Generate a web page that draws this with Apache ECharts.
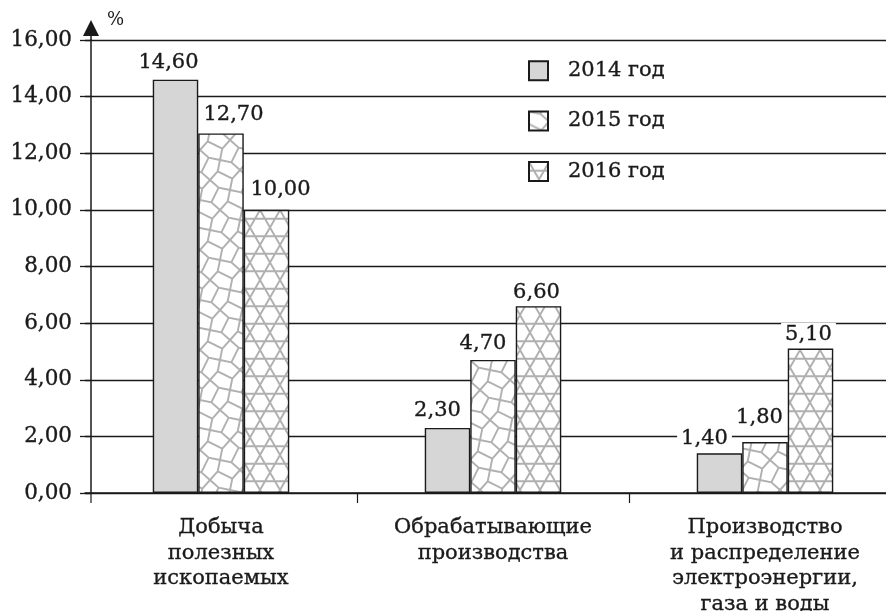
<!DOCTYPE html>
<html><head><meta charset="utf-8">
<script src="https://cdn.jsdelivr.net/npm/echarts@6/dist/echarts.min.js"></script>
<style>html,body{margin:0;padding:0;background:#fff}#c{width:886px;height:611px}</style>
</head><body><div id="c"></div>
<script>
// ---- data ----
var categories = ['Добыча\nполезных\nископаемых', 'Обрабатывающие\nпроизводства', 'Производство\nи распределение\nэлектроэнергии,\nгаза и воды'];
var seriesNames = ['2014 год', '2015 год', '2016 год'];
var values2014 = [14.60, 2.30, 1.40];
var values2015 = [12.70, 4.70, 1.80];
var values2016 = [10.00, 6.60, 5.10];
var yTicks = [0, 2, 4, 6, 8, 10, 12, 14, 16];

// ---- label placement (style): [category][series] = [dx, dy] ----
var labelShift = [
  [[-7, -6], [12.5, -7.5], [14, -8.5]],
  [[-10, -6], [-10, -5], [-2, -2.5]],
  [[-15, -3], [-5.5, -13], [-2, -2.5]]
];

var FONT = '"DejaVu Serif", "Liberation Serif", serif';
var INK = '#1a1a1a';
var PAT = '#b0b0b0';
var BOLD = { textBorderColor: INK, textBorderWidth: 0.35 };

function kagome() {
  var w = 20, h = 35;
  var c = document.createElement('canvas');
  c.width = w; c.height = h;
  var g = c.getContext('2d');
  g.fillStyle = '#fff'; g.fillRect(0, 0, w, h);
  g.strokeStyle = PAT; g.lineWidth = 1.9;
  g.beginPath();
  g.moveTo(0, h / 4); g.lineTo(w, h / 4);
  g.moveTo(0, 3 * h / 4); g.lineTo(w, 3 * h / 4);
  [-20, 0, 20].forEach(function (x0) { g.moveTo(x0, 0); g.lineTo(x0 + w, h); });
  [0, 20, 40].forEach(function (x0) { g.moveTo(x0, 0); g.lineTo(x0 - w, h); });
  g.stroke();
  return c;
}
function cairo() {
  var L = 100, a = L / (2 * Math.sqrt(5)), b = a * 0.73;
  var th = Math.atan(0.5);
  var c = document.createElement('canvas');
  c.width = L; c.height = L;
  var g = c.getContext('2d');
  g.fillStyle = '#fff'; g.fillRect(0, 0, L, L);
  g.strokeStyle = PAT; g.lineWidth = 1.9;
  g.save();
  g.rotate(th);
  g.beginPath();
  for (var i = -8; i <= 12; i++) for (var j = -8; j <= 12; j++) {
    var x0 = i * a, y0 = j * a, cx = x0 + a / 2, cy = y0 + a / 2;
    if (((i + j) % 2 + 2) % 2 === 0) {
      var l = cx - b / 2, r = cx + b / 2;
      g.moveTo(l, cy); g.lineTo(r, cy);
      g.moveTo(x0, y0); g.lineTo(l, cy); g.lineTo(x0, y0 + a);
      g.moveTo(x0 + a, y0); g.lineTo(r, cy); g.lineTo(x0 + a, y0 + a);
    } else {
      var t = cy - b / 2, bt = cy + b / 2;
      g.moveTo(cx, t); g.lineTo(cx, bt);
      g.moveTo(x0, y0); g.lineTo(cx, t); g.lineTo(x0 + a, y0);
      g.moveTo(x0, y0 + a); g.lineTo(cx, bt); g.lineTo(x0 + a, y0 + a);
    }
  }
  g.stroke();
  g.restore();
  return c;
}

var fills = [
  '#d6d6d6',
  { image: cairo(), repeat: 'repeat' },
  { image: kagome(), repeat: 'repeat' }
];
var allValues = [values2014, values2015, values2016];

function fmt(v) { return v.toFixed(2).replace('.', ','); }

var series = allValues.map(function (vals, si) {
  return {
    name: seriesNames[si],
    type: 'bar',
    barWidth: 45.5,
    barGap: '0%',
    itemStyle: { color: fills[si], borderColor: INK, borderWidth: 1.4 },
    label: Object.assign({
      show: true, position: 'top', distance: 0,
      fontFamily: FONT, fontSize: 21, color: INK,
      backgroundColor: '#fff', padding: [1, 4],
      formatter: function (p) { return fmt(p.value); }
    }, BOLD),
    data: vals.map(function (v, ci) {
      return { value: v, label: { offset: labelShift[ci][si] } };
    })
  };
});

var chart = echarts.init(document.getElementById('c'), null, { renderer: 'canvas' });
chart.setOption({
  animation: false,
  backgroundColor: '#fff',
  grid: { left: 85, width: 816, top: 40, bottom: 118, containLabel: false, outerBoundsMode: 'none' },
  legend: {
    orient: 'vertical', left: 528, top: 60, padding: 0,
    itemWidth: 19, itemHeight: 19, itemGap: 29,
    textStyle: Object.assign({ fontFamily: FONT, fontSize: 21, color: INK, padding: [0, 0, 0, 15] }, BOLD),
    data: seriesNames.map(function (n) { return { name: n, icon: 'rect' }; }),
    selectedMode: false
  },
  xAxis: {
    type: 'category', data: categories,
    axisLine: { lineStyle: { color: INK, width: 1.5 } },
    axisTick: { show: true, length: 10, interval: function (i) { return i > 0; }, lineStyle: { color: INK, width: 1.2 } },
    axisLabel: Object.assign({ fontFamily: FONT, fontSize: 21, color: INK, lineHeight: 25.5, margin: 22, interval: 0 }, BOLD)
  },
  yAxis: {
    type: 'value', min: yTicks[0], max: yTicks[yTicks.length - 1], interval: yTicks[1] - yTicks[0],
    offset: -6,
    axisLine: { show: true, lineStyle: { color: INK, width: 1.5 } },
    axisTick: { show: true, length: 11, lineStyle: { color: INK, width: 1.3 } },
    splitLine: { show: true, lineStyle: { color: INK, width: 1.3 } },
    axisLabel: Object.assign({ fontFamily: FONT, fontSize: 21.5, color: INK, margin: 19, formatter: function (v) { return fmt(v); } }, BOLD)
  },
  series: series
});

// axis arrow, downward extension and unit
var topY = chart.convertToPixel({ yAxisIndex: 0 }, yTicks[yTicks.length - 1]);
var botY = chart.convertToPixel({ yAxisIndex: 0 }, yTicks[0]);
var axX = 91;
chart.setOption({
  graphic: [
    { type: 'line', shape: { x1: axX, y1: topY, x2: axX, y2: topY - 8 }, style: { stroke: INK, lineWidth: 1.5 } },
    { type: 'line', shape: { x1: axX, y1: botY, x2: axX, y2: botY + 10 }, style: { stroke: INK, lineWidth: 1.2 } },
    { type: 'polygon', shape: { points: [[axX, topY - 20], [axX - 8, topY - 4], [axX + 8, topY - 4]] }, style: { fill: INK } },
    { type: 'text', x: 107, y: 11, style: { text: '%', font: '18px ' + FONT, fill: INK } }
  ]
});
</script></body></html>
